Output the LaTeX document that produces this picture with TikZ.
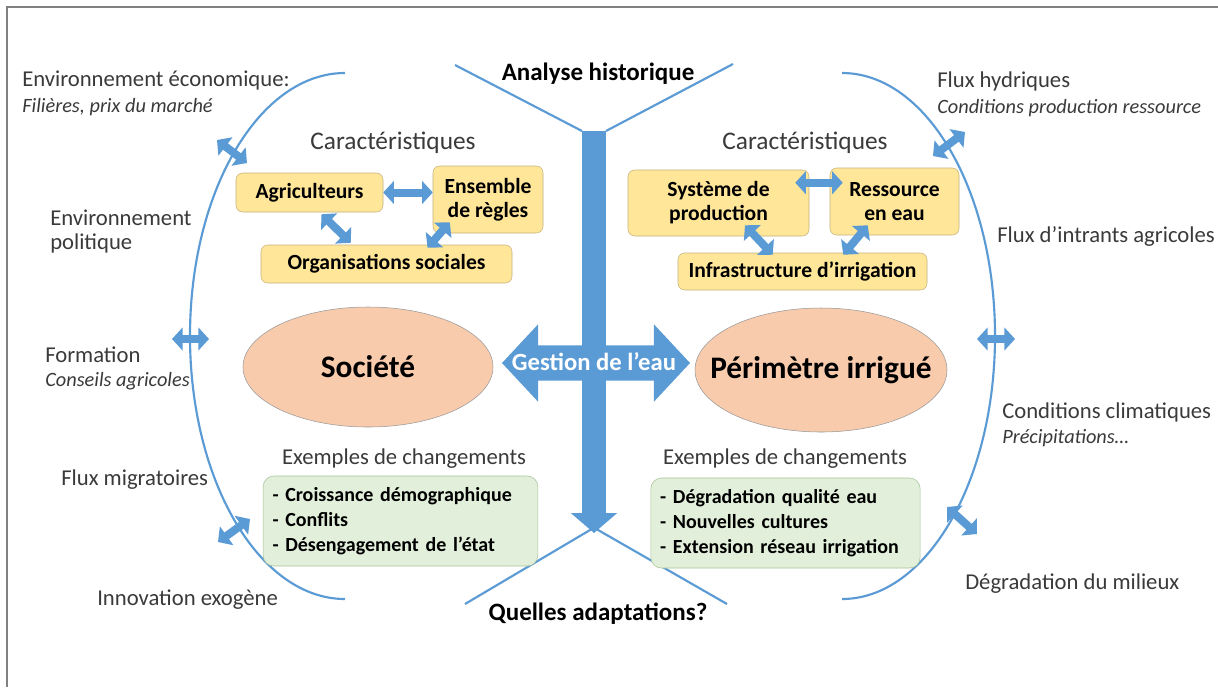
\documentclass[tikz,border=0pt]{standalone}
\usepackage{fontspec}
\setmainfont{Carlito}
\usetikzlibrary{arrows.meta,shapes.arrows,shapes.geometric,calc}
\definecolor{waterblue}{HTML}{5B9BD5}
\definecolor{boxyellow}{HTML}{FFE699}
\definecolor{boxedge}{HTML}{C2B27A}
\definecolor{ovalfill}{HTML}{F8CBAD}
\definecolor{boxgreen}{HTML}{E2EFDA}
\definecolor{greenedge}{HTML}{A8C49A}
\definecolor{txtgray}{HTML}{3A3A3A}
\begin{document}
\begin{tikzpicture}[x=0.75pt,y=-0.75pt,
  outlbl/.style={text=txtgray,font=\fontsize{17}{20}\selectfont,anchor=west,inner sep=0pt},
  itlbl/.style={outlbl,font=\fontsize{15.25}{18}\selectfont\itshape},
  ybox/.style={draw=boxedge,fill=boxyellow,rounded corners=5pt,font=\fontsize{16.2}{18}\selectfont\bfseries,align=center,inner sep=0pt},
  gbox/.style={draw=greenedge,fill=boxgreen,rounded corners=8pt,font=\fontsize{15}{18.75}\selectfont\bfseries,align=left,inner xsep=7pt,inner ysep=0pt,minimum height=67.5pt},
  oval/.style={ellipse,draw=gray!80,fill=ovalfill,inner sep=0pt},
  ovaltxt/.style={font=\fontsize{23.5}{28}\selectfont\bfseries},
  bluearc/.style={draw=waterblue,line width=1.6pt},
  barrow/.style={draw=waterblue,line width=6pt,{Triangle[length=8pt,width=17pt]}-{Triangle[length=8pt,width=17pt]}},
  bigtitle/.style={font=\fontsize{18.75}{22}\selectfont\bfseries},
  subtitle/.style={text=txtgray,font=\fontsize{17}{20}\selectfont}
]
\useasboundingbox (0,0) rectangle (1218,687);
\fill[white] (0,0) rectangle (1218,687);

\draw[gray,line width=1.6pt] (7,687) -- (7,7) -- (1218,7);

\draw[bluearc] (345,599) arc[start angle=90,end angle=270,x radius=155,y radius=263];
\draw[bluearc] (842,73) arc[start angle=-90,end angle=90,x radius=153,y radius=263];

\node[outlbl] (eco) at (22,81) {Environnement économique:};
\node[itlbl] (filieres) at (22,107) {Filières, prix du marché};
\node[outlbl] (envpol) at (50,218) {Environnement};
\node[outlbl] (pol) at (50,243) {politique};
\node[outlbl] (formation) at (45,355) {Formation};
\node[itlbl] (conseils) at (45,381) {Conseils agricoles};
\node[outlbl] (migr) at (61,480) {Flux migratoires};
\node[outlbl] (innov) at (97,600) {Innovation exogène};

\node[outlbl] (hydr) at (937,81) {Flux hydriques};
\node[itlbl] (condprod) at (937,108) {Conditions production ressource};
\node[outlbl] (intrants) at (997,236) {Flux d’intrants agricoles};
\node[outlbl] (clim) at (1002,412) {Conditions climatiques};
\node[itlbl] (precip) at (1002,438) {Précipitations…};
\node[outlbl] (degr) at (965,584) {Dégradation du milieux};

\coordinate (la1) at (217,140);
\coordinate (la2) at (247,163);
\coordinate (lb1) at (172,339);
\coordinate (lb2) at (209,339);
\coordinate (lc1) at (218,542);
\coordinate (lc2) at (250,519);
\coordinate (ra1) at (933,156);
\coordinate (ra2) at (965,132);
\coordinate (rb1) at (977,339);
\coordinate (rb2) at (1015,339);
\coordinate (rc1) at (947,507);
\coordinate (rc2) at (977,534);
\draw[barrow] (la1) -- (la2);
\draw[barrow] (lb1) -- (lb2);
\draw[barrow] (lc1) -- (lc2);
\draw[barrow] (ra1) -- (ra2);
\draw[barrow] (rb1) -- (rb2);
\draw[barrow] (rc1) -- (rc2);

\coordinate (vl) at (455,65);
\coordinate (vr) at (733,64);
\coordinate (vtop) at (594,131);
\coordinate (vtip) at (594,533);
\coordinate (bl) at (465,604);
\coordinate (br) at (727,604);
\draw[bluearc] (vl) -- ([xshift=-9pt]vtop);
\draw[bluearc] ([xshift=9pt]vtop) -- (vr);
\draw[bluearc] (bl) -- ([yshift=4pt]vtip) -- (br);
\draw[draw=waterblue,line width=18pt,-{Triangle[length=15pt,width=34pt]}] (vtop) -- (vtip);

\node[bigtitle] (analyse) at (598,74) {Analyse historique};
\node[bigtitle] (quelles) at (598,614) {Quelles adaptations?};

\node[double arrow,fill=waterblue,minimum height=141pt,minimum width=57.75pt,double arrow head extend=15.75pt,double arrow tip angle=94,inner xsep=0pt,inner ysep=13.1pt] (gestion) at (596,363) {};
\node[text=white,font=\fontsize{18.5}{22}\selectfont\bfseries] (gestiontxt) at (594,362) {Gestion de l’eau};

\node[subtitle,font=\fontsize{19}{22}\selectfont] (carg) at (393,143) {Caractéristiques};
\node[subtitle,font=\fontsize{19}{22}\selectfont] (card) at (805,143) {Caractéristiques};

\node[ybox,minimum width=110.25pt,minimum height=29.25pt] (agri) at (309.5,192.5) {Agriculteurs};
\node[ybox,minimum width=82.5pt,minimum height=50.25pt] (regles) at (488,199.5) {Ensemble\\de règles};
\node[ybox,minimum width=188.25pt,minimum height=28.5pt] (org) at (386.5,264) {Organisations sociales};

\node[ybox,minimum width=135.75pt,minimum height=49.5pt] (sys) at (718.5,203) {Système de\\production};
\node[ybox,minimum width=96.75pt,minimum height=50.25pt] (res) at (894.5,201.5) {Ressource\\en eau};
\node[ybox,minimum width=186.75pt,minimum height=27.75pt] (infra) at (802.5,271.5) {Infrastructure d’irrigation};

\draw[barrow] (agri.east) -- (agri.east -| regles.west);
\draw[barrow] ($(agri.south)+(12,2)$) -- ($(org.north west)+(90,-2)$);
\draw[barrow] ($(regles.south west)+(17,-11)$) -- ($(org.north)+(41,3)$);
\draw[barrow] ($(sys.north east)+(-14,13)$) -- ($(res.north west)+(13,15)$);
\draw[barrow] ($(sys.south)+(26.5,-11)$) -- ($(infra.north west)+(95,2)$);
\draw[barrow] ($(res.south west)+(38,-10)$) -- ($(infra.north east)+(-84,2)$);

\node[oval,minimum width=187.5pt,minimum height=90pt] (societe) at (368,367) {};
\node[ovaltxt] (societetxt) at (societe) {Société};
\node[oval,minimum width=189pt,minimum height=93pt] (perimetre) at (821,370) {};
\node[ovaltxt] (perimetretxt) at (perimetre) {Périmètre irrigué};

\node[subtitle] (exg) at (404,459) {Exemples de changements};
\node[subtitle] (exd) at (785,459) {Exemples de changements};

\node[gbox,text width=192pt] (chgg) at (400.5,521) {- Croissance démographique\\- Conflits\\- Désengagement de l’état};
\node[gbox,text width=188pt] (chgd) at (785.5,523) {- Dégradation qualité eau\\- Nouvelles cultures\\- Extension réseau irrigation};

\end{tikzpicture}
\end{document}
